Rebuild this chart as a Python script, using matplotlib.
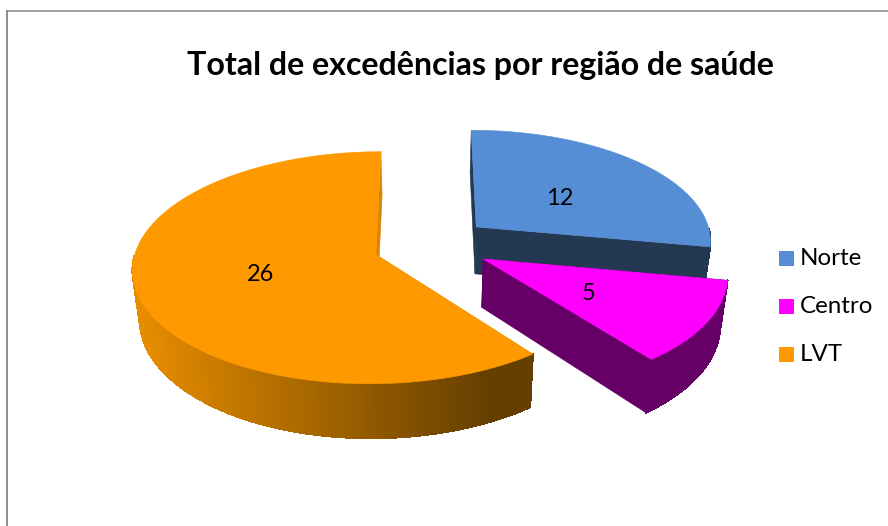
import numpy as np
import matplotlib
matplotlib.use("Agg")
import matplotlib.pyplot as plt
from matplotlib.collections import PolyCollection, LineCollection
from matplotlib.colors import to_rgb
from matplotlib.patches import Polygon, Rectangle
from matplotlib.lines import Line2D

# --- data ---
regions = ["Norte", "Centro", "LVT"]
values = [12, 5, 26]
title = "Total de excedências por região de saúde"

# --- style ---
top_colors = ["#558ED5", "#FF00FF", "#FF9900"]
side_colors = ["#243852", "#660066", "#DB8400"]
side_ramp = [None, None, ("#E68C00", "#653F00")]
ramp_range = (140.0, 490.0)
label_nudge = [(-2, 4), (-3, 3), (2, 0)]
FONT = "Lato"

# --- projection of the tilted pie (pixels) ---
CX, CY = 426.0, 250.0
A, B, K = 240.0, 113.5, 0.113
DEPTH, SHRINK = 48.0, 0.975
# exploded slice centres on the pie plane, in units of the radius, and radii
centres = [(0.214, -0.208), (0.236, 0.078), (-0.208, 0.040)]
radii = [0.99, 1.0, 1.0]


def project(x, z, low=False):
    s = 1.0 / (1.0 - K * z)
    X = CX + A * x * s
    Y = CY + B * z * s
    if low:
        X = CX + (X - CX) * SHRINK
        Y = Y + DEPTH * s
    return X, Y


fig = plt.figure(figsize=(8.88, 5.26), dpi=100)
ax = fig.add_axes([0, 0, 1, 1])
ax.set_xlim(0, 888)
ax.set_ylim(526, 0)
ax.axis("off")

# chart frame (only top and left fall inside the picture)
ax.add_line(Line2D([6.7, 888], [10.5, 10.5], color="#868686", lw=1.1))
ax.add_line(Line2D([6.7, 6.7], [10.5, 526], color="#868686", lw=1.3))

total = sum(values)
edges = np.concatenate([[0.0], np.cumsum(values)]) / total * 2 * np.pi
labels = []
z_level = 2.0

for i in range(len(values)):
    t = np.linspace(edges[i], edges[i + 1], 241)
    cx, cz = centres[i]
    r = radii[i]
    x = cx + r * np.sin(t)
    z = cz - r * np.cos(t)
    Xt, Yt = project(x, z)
    Xb, Yb = project(x, z, low=True)
    ax_t, ay_t = project(cx, cz)
    ax_b, ay_b = project(cx, cz, low=True)

    # cut faces, far one first
    faces = [
        [(ax_t, ay_t), (Xt[0], Yt[0]), (Xb[0], Yb[0]), (ax_b, ay_b)],
        [(ax_t, ay_t), (Xt[-1], Yt[-1]), (Xb[-1], Yb[-1]), (ax_b, ay_b)],
    ]
    faces.sort(key=lambda f: f[1][1])
    for f in faces:
        ax.add_patch(Polygon(f, closed=True, fc=side_colors[i], ec=side_colors[i], lw=0.4,
                             zorder=z_level))

    # outer rim: only the part turned towards the viewer
    keep = [j for j in range(len(t) - 1) if -np.cos(t[j]) > 0.02]
    quads = [
        [(Xt[j], Yt[j]), (Xt[j + 1], Yt[j + 1]), (Xb[j + 1], Yb[j + 1]), (Xb[j], Yb[j])]
        for j in keep
    ]
    if side_ramp[i] is None:
        cols = [side_colors[i]] * len(quads)
    else:
        c0, c1 = (np.array(to_rgb(c)) for c in side_ramp[i])
        f = np.clip((Xt[keep] - ramp_range[0]) / (ramp_range[1] - ramp_range[0]), 0, 1)
        cols = [tuple(c0 + (c1 - c0) * v) for v in f]
    ax.add_collection(PolyCollection(quads, facecolors=cols, edgecolors=cols,
                                     linewidths=0.8, antialiaseds=False, zorder=z_level + 0.1))
    # smooth lower edge of the rim
    segs = [[(Xb[j], Yb[j]), (Xb[j + 1], Yb[j + 1])] for j in keep]
    ax.add_collection(LineCollection(segs, colors=cols, linewidths=0.9, capstyle="round",
                                     zorder=z_level + 0.2))

    # top face
    pts = np.column_stack([np.r_[ax_t, Xt], np.r_[ay_t, Yt]])
    ax.add_patch(Polygon(pts, closed=True, fc=top_colors[i], ec=top_colors[i], lw=0.4,
                         zorder=z_level + 0.3))
    z_level += 1.0

    # value label, halfway along the slice's middle direction
    mid = 0.5 * (edges[i] + edges[i + 1])
    labels.append((project(cx + 0.5 * np.sin(mid), cz - 0.5 * np.cos(mid)), values[i]))

for ((lx, ly), v), (dx, dy) in zip(labels, label_nudge):
    ax.text(lx + dx, ly + 1 + dy, str(v), fontsize=17, family=FONT, color="black",
            ha="center", va="center", zorder=20)

ax.text(480, 65, title, fontsize=23.1, family=FONT, fontweight="bold", color="black",
        ha="center", va="center", zorder=20)

# legend
for name, col, y in zip(regions, top_colors, [258.5, 306.5, 354.5]):
    ax.add_patch(Rectangle((779, y - 7.5), 15, 15, fc=col, ec="none", zorder=20))
    ax.text(800, y, name, fontsize=17.4, family=FONT, color="black", ha="left", va="center",
            zorder=20)

fig.savefig("out.png", dpi=100, facecolor="white")
